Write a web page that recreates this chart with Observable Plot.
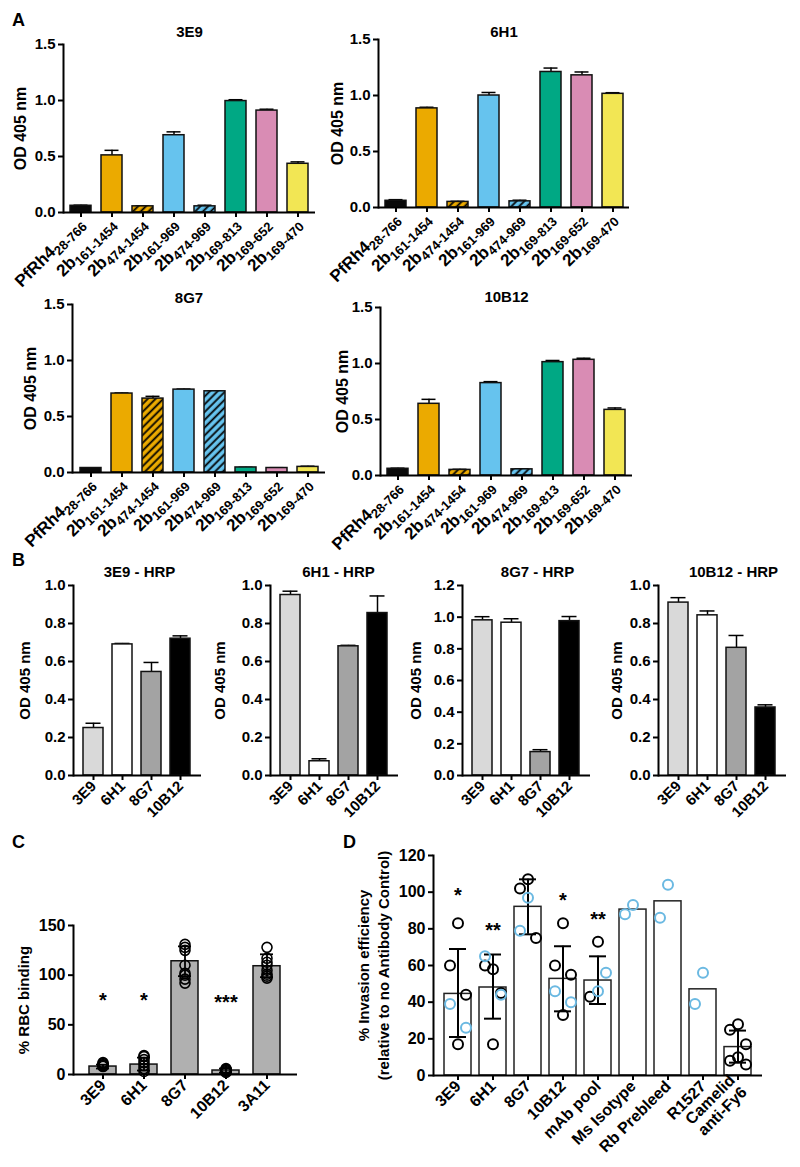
<!DOCTYPE html>
<html><head><meta charset="utf-8">
<script src="https://cdn.jsdelivr.net/npm/d3@7"></script>
<script src="https://cdn.jsdelivr.net/npm/@observablehq/plot@0.6"></script>
<style>
body{margin:0;background:#fff;}
#fig{position:relative;width:800px;height:1167px;overflow:hidden;font-family:"Liberation Sans",Arial,Helvetica,sans-serif;}
.letter{position:absolute;font-weight:bold;font-size:18px;line-height:18px;}
</style></head><body>
<div id="fig">
<svg width="0" height="0" style="position:absolute;left:0;top:0">
  <defs>
    <pattern id="hatchO" patternUnits="userSpaceOnUse" width="5.5" height="5.5" patternTransform="rotate(45)">
      <rect width="5.5" height="5.5" fill="#EBAA00"></rect>
      <line x1="1.5" y1="0" x2="1.5" y2="5.5" stroke="#000" stroke-width="1.8"></line>
    </pattern>
    <pattern id="hatchB" patternUnits="userSpaceOnUse" width="5.5" height="5.5" patternTransform="rotate(45)">
      <rect width="5.5" height="5.5" fill="#66C3EE"></rect>
      <line x1="1.5" y1="0" x2="1.5" y2="5.5" stroke="#000" stroke-width="1.8"></line>
    </pattern>
  </defs>
</svg>
<div class="letter" style="left:12px;top:11px">A</div>
<div class="letter" style="left:12px;top:551px">B</div>
<div class="letter" style="left:12px;top:833px">C</div>
<div class="letter" style="left:343px;top:833px">D</div>
</div>
<script>
// ---------------- DATA ----------------
// Panel A
const aCats = ["PfRh4|28-766","2b|161-1454","2b|474-1454","2b|161-969","2b|474-969","2b|169-813","2b|169-652","2b|169-470"];
const aFills = ["#0A0A0A","#EBAA00","url(#hatchO)","#66C3EE","url(#hatchB)","#00A884","#D98CB4","#F2E654"];
const aTitles = ["3E9","6H1","8G7","10B12"];
const a3E9 = [0.06, 0.51, 0.055, 0.69, 0.055, 0.995, 0.91, 0.435];
const a3E9err = [0.065, 0.555, 0.06, 0.72, 0.065, 1.007, 0.922, 0.452];
const a6H1 = [0.06, 0.885, 0.05, 1.0, 0.055, 1.21, 1.18, 1.015];
const a6H1err = [0.07, 0.895, 0.055, 1.027, 0.065, 1.245, 1.21, 1.025];
const a8G7 = [0.04, 0.705, 0.66, 0.74, 0.725, 0.045, 0.04, 0.05];
const a8G7err = [0.042, 0.71, 0.68, 0.745, 0.73, 0.046, 0.043, 0.056];
const a10B12 = [0.06, 0.64, 0.05, 0.825, 0.055, 1.012, 1.033, 0.586];
const a10B12err = [0.065, 0.68, 0.055, 0.838, 0.06, 1.027, 1.047, 0.603];
const aTicks = [0, 0.5, 1.0, 1.5];

// Panel B
const bCats = ["3E9","6H1","8G7","10B12"];
const bFills = ["#D9D9D9","#FFFFFF","#A3A3A3","#000000"];
const bTitles = ["3E9 - HRP","6H1 - HRP","8G7 - HRP","10B12 - HRP"];
const b3E9 = [0.25, 0.69, 0.545, 0.72];
const b3E9err = [0.275, 0.695, 0.595, 0.735];
const b6H1 = [0.95, 0.075, 0.68, 0.855];
const b6H1err = [0.97, 0.088, 0.685, 0.945];
const b8G7 = [0.98, 0.965, 0.148, 0.975];
const b8G7err = [1.003, 0.99, 0.163, 1.004];
const b10B12 = [0.91, 0.843, 0.672, 0.358];
const b10B12err = [0.936, 0.866, 0.737, 0.372];
const bTicks = [0, 0.2, 0.4, 0.6, 0.8, 1.0];
const bTicks12 = [0, 0.2, 0.4, 0.6, 0.8, 1.0, 1.2];

// Panel C
const cCats = ["3E9","6H1","8G7","10B12","3A11"];
const cBars = [8, 10, 114, 4, 109];
const cLo = [6, 4, 99, 2, 98];
const cHi = [10, 17, 129, 6, 121];
const cPoints = [
  [8, 9, 10, 11, 12, 9],
  [3, 6, 9, 12, 15, 18, 19],
  [131, 128, 125, 110, 102, 100, 96, 92],
  [2, 3, 4, 5, 5, 6],
  [128, 117, 113, 110, 105, 101, 99, 97]
];
const cStars = ["*", "*", "", "***", ""];
const cStarY = [79, 79, null, 77, null];
const cTicks = [0, 50, 100, 150];

// Panel D
const dCats = ["3E9","6H1","8G7","10B12","mAb pool","Ms Isotype","Rb Prebleed","R1527","Camelid\nanti-Fy6"];
const dBars = [44.5, 48, 92, 52.7, 51.8, 90.5, 95, 47, 15.5];
const dLo = [21, 31, 77, 35, 39, null, null, null, 7];
const dHi = [69, 66, 107, 70.5, 65, null, null, null, 24.5];
const dBlack = [[83, 60, 44, 17], [58, 60, 45, 17], [107, 102, 75], [83, 60, 55, 33], [73, 43], [], [], [], [28, 25, 17, 10, 8, 6]];
const dBlue = [[39, 26], [65, 44], [97, 79], [46, 40], [56, 46], [93, 88], [104, 86], [56, 39], []];
const dStars = ["*", "**", "", "*", "**", "", "", "", ""];
const dStarY = [101, 82, null, 98, 88, null, null, null, null];
const dTicks = [0, 20, 40, 60, 80, 100, 120];

const BLUE = "#6BB9E2";
const FONT = "'Liberation Sans', Arial, Helvetica, sans-serif";
const fig = document.getElementById("fig");

// ---------------- helpers ----------------
function place(svg) {
  svg.style.position = "absolute";
  svg.style.left = "0px";
  svg.style.top = "0px";
  fig.appendChild(svg);
  // subscripts for labels written as "main|sub"
  d3.select(svg).selectAll("text").each(function () {
    const t = this.textContent;
    if (!t.includes("|")) return;
    const [main, sub] = t.split("|");
    const s = d3.select(this);
    s.text(null);
    s.append("tspan").text(main);
    s.append("tspan").attr("font-size", "13px").attr("dy", "0.3em").text(sub);
  });
}

function chart(o, marks) {
  const H = o.y1 + o.mb;
  return Plot.plot({
    width: 800, height: H,
    marginLeft: o.x0, marginRight: 800 - o.x1, marginTop: o.y0, marginBottom: o.mb,
    style: `background: transparent; font-family: ${FONT}; font-size: 15px; font-weight: bold; color: #000; overflow: visible;`,
    x: {type: "band", domain: o.cats, paddingInner: o.pi, paddingOuter: o.po, label: null},
    y: {domain: o.yDomain, label: null},
    color: {type: "identity"},
    marks: [
      ...marks,
      Plot.ruleY([0], {strokeWidth: 2}),
      Plot.frame({anchor: "left", strokeWidth: 2}),
      Plot.axisY({ticks: o.yTicks, tickFormat: o.yFmt, tickSize: 5, tickPadding: 3, strokeWidth: 2, label: null, fontSize: o.yfs || 15}),
      Plot.axisX({tickSize: 5, tickPadding: 3, tickRotate: -45, strokeWidth: 2, label: null, lineHeight: 1.05, fontSize: o.xfs || 15}),
      Plot.text([o.ylabel], {frameAnchor: "left", textAnchor: "middle", lineAnchor: "middle", rotate: -90, dx: o.ldx, fontSize: o.lfs || 15, fontWeight: "bold", lineHeight: o.lh || 1, text: d => d}),
      ...(o.title ? [Plot.text([o.title], {frameAnchor: "top", lineAnchor: "middle", dy: o.tdy, dx: o.tdx || 0, fontSize: o.tfs || 15, fontWeight: "bold", text: d => d})] : [])
    ]
  });
}

function simpleBars(cats, vals, errs, fills, capInset) {
  const data = cats.map((c, i) => ({c, v: vals[i], e: errs[i], f: fills[i]}));
  return [
    Plot.ruleX(data, {x: "c", y1: "v", y2: "e", strokeWidth: 1.5}),
    Plot.tickY(data, {x: "c", y: "e", strokeWidth: 1.5, inset: capInset}),
    Plot.barY(data, {x: "c", y: "v", fill: "f", stroke: "#111", strokeWidth: 1.5})
  ];
}

// ---------------- Panel A ----------------
const aVals = [[a3E9, a3E9err], [a6H1, a6H1err], [a8G7, a8G7err], [a10B12, a10B12err]];
const aFrames = [
  {x0: 63, x1: 315, y0: 44, y1: 212, tdy: -12, tdx: 0, ldx: -43},
  {x0: 378, x1: 629, y0: 39, y1: 207, tdy: -7, tdx: 0, ldx: -41},
  {x0: 72, x1: 325, y0: 304, y1: 472, tdy: -6, tdx: -10, ldx: -42},
  {x0: 380, x1: 632, y0: 307, y1: 475, tdy: -10, tdx: 0, ldx: -38}
];
aFrames.forEach((f, k) => {
  const o = Object.assign({}, f, {
    mb: 100, cats: aCats, pi: 0.33, po: 0.165, yDomain: [0, 1.5], yTicks: aTicks, yFmt: ".1f",
    ylabel: "OD 405 nm", title: aTitles[k], xfs: 17, lfs: 16, tfs: 15, yfs: 15
  });
  place(chart(o, simpleBars(aCats, aVals[k][0], aVals[k][1], aFills, 3.5)));
});

// ---------------- Panel B ----------------
const bVals = [[b3E9, b3E9err], [b6H1, b6H1err], [b8G7, b8G7err], [b10B12, b10B12err]];
const bFrames = [
  {x0: 73, x1: 201, tdx: 2, ldx: -48},
  {x0: 270, x1: 398, tdx: 4, ldx: -50},
  {x0: 462, x1: 590, tdx: 11, ldx: -46},
  {x0: 658, x1: 786, tdx: 11, ldx: -41}
];
bFrames.forEach((f, k) => {
  const o = Object.assign({}, f, {
    y0: 585, y1: 775, mb: 80, tdy: -13, cats: bCats, pi: 0.3, po: 0.3,
    yDomain: k === 2 ? [0, 1.2] : [0, 1.0], yTicks: k === 2 ? bTicks12 : bTicks, yFmt: ".1f",
    ylabel: "OD 405 nm", title: bTitles[k], tfs: 15, lfs: 15, xfs: 15, yfs: 15
  });
  place(chart(o, simpleBars(bCats, bVals[k][0], bVals[k][1], bFills, 2.5)));
});

// ---------------- Panel C ----------------
{
  const bars = cCats.map((c, i) => ({c, v: cBars[i], lo: cLo[i], hi: cHi[i]}));
  const pts = cCats.flatMap((c, i) => cPoints[i].map(v => ({c, v})));
  const stars = cCats.map((c, i) => ({c, s: cStars[i], y: cStarY[i]})).filter(d => d.s);
  const o = {x0: 73, x1: 297, y0: 925, y1: 1074, mb: 93, cats: cCats, pi: 0.33, po: 0.345,
    yDomain: [0, 150], yTicks: cTicks, yFmt: "d", ylabel: "% RBC binding", ldx: -49, xfs: 16, yfs: 16};
  place(chart(o, [
    Plot.barY(bars, {x: "c", y: "v", fill: "#B0B0B0", stroke: "#111", strokeWidth: 1.5}),
    Plot.dot(pts, {x: "c", y: "v", r: 5, stroke: "#000", strokeWidth: 1.6, fill: "none"}),
    Plot.ruleX(bars, {x: "c", y1: "lo", y2: "hi", strokeWidth: 1.8}),
    Plot.tickY(bars, {x: "c", y: "lo", strokeWidth: 1.8, inset: 7}),
    Plot.tickY(bars, {x: "c", y: "hi", strokeWidth: 1.8, inset: 7}),
    Plot.text(stars, {x: "c", y: "y", text: "s", fontSize: 20, fontWeight: "bold", dy: 5})
  ]));
}

// ---------------- Panel D ----------------
{
  const bars = dCats.map((c, i) => ({c, v: dBars[i]}));
  const errs = dCats.map((c, i) => ({c, lo: dLo[i], hi: dHi[i]})).filter(d => d.lo != null);
  const lanes = [0, -1, 1];
  const pts = dCats.flatMap((c, i) => {
    const all = [...dBlack[i].map(v => ({c, v, col: "#000"})), ...dBlue[i].map(v => ({c, v, col: BLUE}))];
    return all.map((p, j) => Object.assign(p, {lane: lanes[j % 3]}));
  });
  const stars = dCats.map((c, i) => ({c, s: dStars[i], y: dStarY[i]})).filter(d => d.s);
  const o = {x0: 433, x1: 762, y0: 855, y1: 1075, mb: 92, cats: dCats, pi: 0.22, po: 0.21,
    yDomain: [0, 120], yTicks: dTicks, yFmt: "d", xfs: 16, yfs: 16,
    ylabel: "% Invasion efficiency\n(relative to no Antibody Control)", ldx: -61, lh: 1.35};
  place(chart(o, [
    Plot.barY(bars, {x: "c", y: "v", fill: "white", stroke: "#222", strokeWidth: 1.5}),
    Plot.ruleX(errs, {x: "c", y1: "lo", y2: "hi", strokeWidth: 2}),
    Plot.tickY(errs, {x: "c", y: "lo", strokeWidth: 2, inset: 5}),
    Plot.tickY(errs, {x: "c", y: "hi", strokeWidth: 2, inset: 5}),
    ...[-1, 0, 1].map(l => Plot.dot(pts.filter(p => p.lane === l), {x: "c", y: "v", r: 5, stroke: "col", strokeWidth: 2, fill: "none", dx: l * 8})),
    Plot.text(stars, {x: "c", y: "y", text: "s", fontSize: 20, fontWeight: "bold", dy: 5})
  ]));
}
</script>
</body></html>
